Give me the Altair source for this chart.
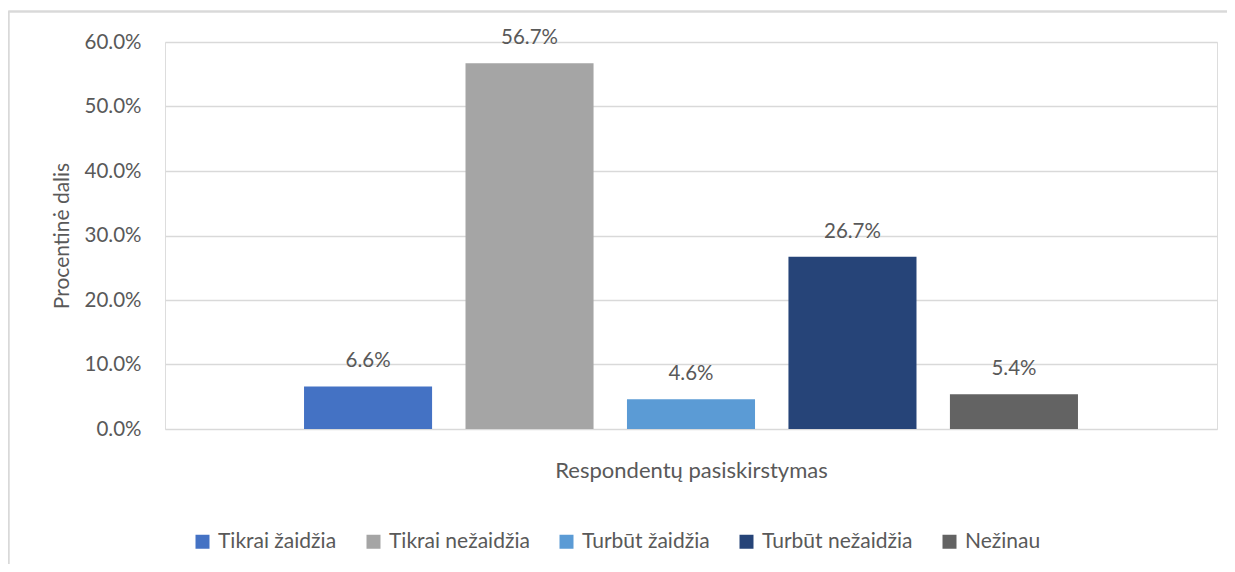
import altair as alt
import pandas as pd

series = ["Tikrai žaidžia", "Tikrai nežaidžia", "Turbūt žaidžia", "Turbūt nežaidžia", "Nežinau"]
values = [0.066, 0.567, 0.046, 0.267, 0.054]
labels = ["6.6%", "56.7%", "4.6%", "26.7%", "5.4%"]
colors = ["#4472C4", "#A5A5A5", "#5B9BD5", "#264478", "#636363"]

df = pd.DataFrame({"series": series, "value": values, "label": labels})

FONT = "Lato"
TXT = "#595959"
W, H = 1052, 387

xenc = alt.X(
    "series:N",
    sort=series,
    scale=alt.Scale(paddingInner=0.207, paddingOuter=0.861),
    axis=alt.Axis(
        title="Respondentų pasiskirstymas", labels=False, ticks=False, domain=False,
        grid=False, titleFontSize=22, titleFontWeight="normal", titleColor=TXT,
        titleFont=FONT, titleBaseline="middle", titleY=41, titleX=W / 2,
    ),
)

bars = alt.Chart(df).mark_bar().encode(
    x=xenc,
    y=alt.Y(
        "value:Q",
        scale=alt.Scale(domain=[0, 0.6], nice=False),
        axis=alt.Axis(
            title="Procentinė dalis", format=".1%", values=[0, 0.1, 0.2, 0.3, 0.4, 0.5, 0.6],
            ticks=False, domain=False, gridColor="#D9D9D9", gridWidth=1.3,
            labelFontSize=20.5, labelColor=TXT, labelFont=FONT, labelPadding=24,
            titleFontSize=21, titleFontWeight="normal", titleColor=TXT, titleFont=FONT,
            titleBaseline="middle", titleX=-103, titleY=H / 2, titleAngle=270,
        ),
    ),
    color=alt.Color(
        "series:N",
        sort=series,
        scale=alt.Scale(domain=series, range=colors),
        legend=alt.Legend(
            title=None, orient="none", direction="horizontal", columns=5,
            legendX=27, legendY=489, symbolType="square", symbolSize=196,
            symbolStrokeWidth=0, labelFontSize=21, labelFont=FONT, labelColor=TXT,
            columnPadding=26, labelOffset=5, symbolOpacity=1, labelLimit=300,
        ),
    ),
)

text = alt.Chart(df).mark_text(
    baseline="middle", dy=-25, fontSize=20.5, font=FONT, color=TXT
).encode(x=alt.X("series:N", sort=series), y="value:Q", text="label:N")

border = alt.Chart(df).mark_rule(color="#D9D9D9", strokeWidth=1.5).encode(
    x=alt.value(-156.5), x2=alt.value(-156.5), y=alt.value(-31), y2=alt.value(600)
)
border_top = alt.Chart(df).mark_rule(color="#D9D9D9", strokeWidth=1.5).encode(
    x=alt.value(-156.5), x2=alt.value(1200), y=alt.value(-30.5), y2=alt.value(-30.5)
)

chart = (
    alt.layer(bars, text, border, border_top)
    .properties(
        width=W, height=H,
        autosize=alt.AutoSizeParams(type="none"),
        padding={"left": 157, "top": 34, "right": 10, "bottom": 135},
    )
    .configure_view(stroke=None)
    .configure(background="white")
)

chart.save("out.html", embed_options={"renderer": "svg", "actions": False})
